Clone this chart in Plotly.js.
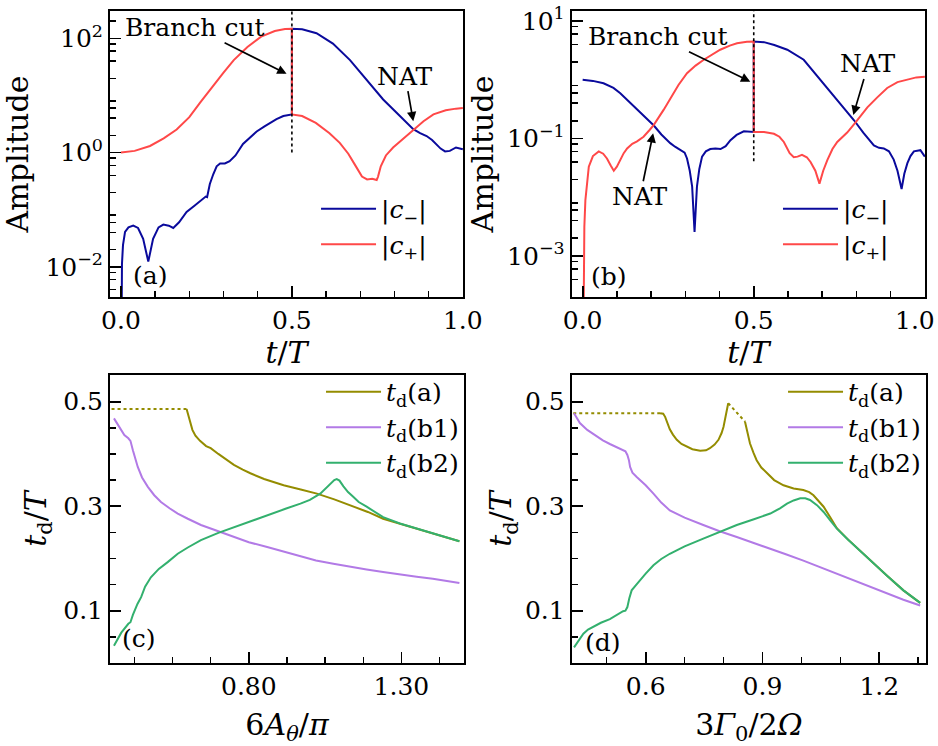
<!DOCTYPE html>
<html>
<head>
<meta charset="utf-8">
<script src="https://cdn.plot.ly/plotly-3.0.1.min.js"></script>
<style>html,body{margin:0;padding:0;background:#fff;}#chart{width:938px;height:746px;}</style>
</head>
<body>
<div id="chart"></div>
<script>
// ---------- Panel (a): amplitudes vs t/T ----------
const tMinusA = [0, 0.001, 0.003, 0.006, 0.012, 0.022, 0.036, 0.05, 0.065, 0.08, 0.094, 0.11, 0.124, 0.14, 0.153, 0.17, 0.192, 0.215, 0.24, 0.248, 0.252, 0.26, 0.27, 0.28, 0.29, 0.304, 0.318, 0.335, 0.357, 0.38, 0.397, 0.42, 0.436, 0.455, 0.475, 0.494, 0.5, 0.5, 0.53, 0.572, 0.62, 0.67, 0.718, 0.767, 0.816, 0.855, 0.875, 0.894, 0.91, 0.923, 0.935, 0.948, 0.962, 0.98, 0.99, 1.0];
const cMinusA = [0.00001, 0.00251, 0.01122, 0.02399, 0.04074, 0.04898, 0.05248, 0.04786, 0.0309, 0.0123, 0.0309, 0.04898, 0.05495, 0.05248, 0.04786, 0.06026, 0.0912, 0.1175, 0.1549, 0.1698, 0.166, 0.2818, 0.4169, 0.5754, 0.6457, 0.6457, 0.7079, 0.8913, 1.413, 1.905, 2.344, 2.884, 3.311, 3.846, 4.365, 4.624, 4.645, 147.9, 144.5, 123.0, 81.28, 41.69, 18.62, 8.511, 4.365, 2.57, 2.188, 1.95, 1.66, 1.38, 1.175, 1.047, 1.072, 1.23, 1.202, 1.148];
const tPlusA = [0, 0.04, 0.085, 0.125, 0.163, 0.2, 0.231, 0.27, 0.3, 0.33, 0.37, 0.41, 0.45, 0.48, 0.5, 0.5, 0.53, 0.57, 0.61, 0.64, 0.665, 0.685, 0.705, 0.72, 0.735, 0.748, 0.752, 0.76, 0.775, 0.796, 0.825, 0.855, 0.885, 0.914, 0.95, 0.98, 1.0];
const cPlusA = [1.0, 1.072, 1.306, 1.778, 2.541, 4.169, 7.413, 15.14, 25.12, 41.69, 70.79, 107.2, 134.9, 146.2, 147.9, 4.645, 4.365, 3.311, 2.188, 1.479, 0.955, 0.603, 0.38, 0.339, 0.347, 0.331, 0.38, 0.575, 0.891, 1.23, 1.738, 2.57, 3.548, 4.677, 5.495, 5.888, 6.026];
const cutTA = [0.5, 0.5];
const cutAmpA = [1.0, 1000];

// ---------- Panel (b): amplitudes vs t/T ----------
const tMinusB = [0, 0.03, 0.061, 0.09, 0.11, 0.13, 0.159, 0.185, 0.208, 0.23, 0.256, 0.27, 0.286, 0.298, 0.305, 0.313, 0.32, 0.327, 0.334, 0.341, 0.349, 0.36, 0.373, 0.388, 0.403, 0.418, 0.432, 0.45, 0.471, 0.49, 0.5, 0.5, 0.53, 0.56, 0.598, 0.646, 0.695, 0.744, 0.77, 0.793, 0.82, 0.851, 0.866, 0.88, 0.895, 0.909, 0.92, 0.932, 0.94, 0.949, 0.958, 0.968, 0.987, 1.0];
const cMinusB = [1.0, 0.955, 0.871, 0.724, 0.589, 0.452, 0.316, 0.224, 0.166, 0.117, 0.0832, 0.0724, 0.0646, 0.0575, 0.0457, 0.0282, 0.0151, 0.00257, 0.0151, 0.0302, 0.049, 0.0603, 0.0661, 0.0676, 0.0661, 0.0741, 0.0933, 0.115, 0.132, 0.132, 0.129, 4.467, 4.365, 3.89, 3.236, 2.188, 1.0, 0.457, 0.302, 0.204, 0.126, 0.0759, 0.0692, 0.0676, 0.0603, 0.0437, 0.0282, 0.0138, 0.0251, 0.038, 0.0501, 0.0603, 0.0631, 0.049];
const tPlusB = [0, 0.002, 0.005, 0.008, 0.013, 0.018, 0.03, 0.047, 0.06, 0.071, 0.082, 0.091, 0.1, 0.11, 0.12, 0.13, 0.145, 0.159, 0.178, 0.195, 0.208, 0.237, 0.256, 0.28, 0.305, 0.33, 0.354, 0.38, 0.402, 0.43, 0.451, 0.48, 0.5, 0.5, 0.53, 0.559, 0.575, 0.588, 0.605, 0.617, 0.628, 0.641, 0.655, 0.666, 0.68, 0.692, 0.703, 0.715, 0.73, 0.744, 0.76, 0.773, 0.797, 0.815, 0.832, 0.861, 0.89, 0.92, 0.95, 0.975, 1.0];
const cPlusB = [0.000001, 0.000316, 0.00316, 0.00891, 0.02, 0.0331, 0.0501, 0.0603, 0.055, 0.0457, 0.0347, 0.0282, 0.0331, 0.0427, 0.0562, 0.0676, 0.0813, 0.0891, 0.107, 0.138, 0.17, 0.309, 0.479, 0.813, 1.288, 1.738, 2.188, 2.754, 3.236, 3.802, 4.169, 4.416, 4.467, 0.129, 0.129, 0.12, 0.107, 0.0871, 0.0562, 0.0479, 0.049, 0.0525, 0.0479, 0.0398, 0.0282, 0.017, 0.0282, 0.0427, 0.0661, 0.0871, 0.107, 0.126, 0.186, 0.251, 0.339, 0.501, 0.724, 0.912, 1.023, 1.096, 1.122];
const cutTB = [0.5, 0.5];
const cutAmpB = [0.041, 100];

// ---------- Panel (c): t_d/T vs 6A_theta/pi ----------
const xDotC = [0.35, 0.596];
const aDotC = [0.486, 0.486];
const xAC = [0.596, 0.6, 0.607, 0.615, 0.625, 0.64, 0.66, 0.675, 0.7, 0.725, 0.751, 0.78, 0.805, 0.85, 0.914, 0.97, 1.023, 1.08, 1.131, 1.19, 1.24, 1.3, 1.349, 1.42, 1.49];
const tdAC = [0.486, 0.478, 0.46, 0.446, 0.435, 0.425, 0.415, 0.411, 0.4, 0.389, 0.379, 0.37, 0.363, 0.352, 0.34, 0.332, 0.324, 0.313, 0.302, 0.289, 0.276, 0.266, 0.257, 0.245, 0.233];
const xB1C = [0.358, 0.376, 0.392, 0.405, 0.412, 0.42, 0.436, 0.45, 0.469, 0.49, 0.512, 0.54, 0.567, 0.6, 0.643, 0.7, 0.751, 0.8, 0.86, 0.92, 0.969, 1.02, 1.077, 1.13, 1.186, 1.24, 1.295, 1.35, 1.403, 1.45, 1.49];
const tdB1C = [0.468, 0.452, 0.436, 0.43, 0.425, 0.407, 0.375, 0.355, 0.337, 0.321, 0.308, 0.296, 0.286, 0.276, 0.264, 0.252, 0.241, 0.231, 0.222, 0.212, 0.203, 0.196, 0.19, 0.184, 0.179, 0.174, 0.169, 0.165, 0.161, 0.157, 0.153];
const xB2C = [0.358, 0.382, 0.405, 0.412, 0.42, 0.435, 0.447, 0.46, 0.479, 0.505, 0.534, 0.567, 0.6, 0.643, 0.7, 0.751, 0.8, 0.86, 0.92, 0.969, 1.0, 1.034, 1.061, 1.08, 1.088, 1.097, 1.11, 1.125, 1.142, 1.16, 1.186, 1.24, 1.295, 1.35, 1.403, 1.45, 1.49];
const tdB2C = [0.033, 0.058, 0.075, 0.078, 0.092, 0.113, 0.126, 0.146, 0.164, 0.18, 0.193, 0.209, 0.221, 0.235, 0.249, 0.26, 0.27, 0.283, 0.295, 0.305, 0.312, 0.324, 0.34, 0.35, 0.352, 0.349, 0.338, 0.327, 0.318, 0.308, 0.299, 0.279, 0.267, 0.257, 0.248, 0.24, 0.233];

// ---------- Panel (d): t_d/T vs 3Gamma0/2Omega ----------
const xDot1D = [0.414, 0.637];
const aDot1D = [0.478, 0.478];
const xA1D = [0.637, 0.645, 0.65, 0.655, 0.662, 0.67, 0.68, 0.692, 0.705, 0.72, 0.74, 0.755, 0.765, 0.777, 0.787, 0.795, 0.8, 0.806, 0.812];
const tdA1D = [0.478, 0.477, 0.471, 0.46, 0.447, 0.437, 0.427, 0.419, 0.414, 0.409, 0.406, 0.407, 0.411, 0.418, 0.427, 0.44, 0.452, 0.472, 0.497];
const xDot2D = [0.812, 0.855];
const aDot2D = [0.497, 0.462];
const xA2D = [0.855, 0.86, 0.868, 0.877, 0.885, 0.897, 0.911, 0.93, 0.954, 0.98, 1.005, 1.02, 1.031, 1.045, 1.057, 1.074, 1.091, 1.12, 1.15, 1.177, 1.22, 1.262, 1.305];
const tdA2D = [0.462, 0.445, 0.42, 0.402, 0.388, 0.374, 0.363, 0.35, 0.34, 0.334, 0.331, 0.327, 0.321, 0.31, 0.299, 0.279, 0.258, 0.236, 0.215, 0.196, 0.167, 0.139, 0.115];
const xB1D = [0.416, 0.423, 0.431, 0.45, 0.474, 0.49, 0.508, 0.525, 0.542, 0.548, 0.553, 0.557, 0.56, 0.566, 0.577, 0.6, 0.62, 0.64, 0.662, 0.7, 0.748, 0.79, 0.834, 0.878, 0.92, 0.96, 1.005, 1.05, 1.091, 1.135, 1.177, 1.22, 1.262, 1.305];
const tdB1D = [0.478, 0.468, 0.459, 0.446, 0.433, 0.426, 0.419, 0.413, 0.407, 0.405, 0.398, 0.388, 0.375, 0.364, 0.356, 0.34, 0.324, 0.307, 0.292, 0.278, 0.264, 0.252, 0.241, 0.23, 0.219, 0.208, 0.196, 0.183, 0.17, 0.158, 0.145, 0.133, 0.121, 0.11];
const xB2D = [0.416, 0.428, 0.44, 0.452, 0.465, 0.485, 0.508, 0.525, 0.542, 0.548, 0.553, 0.558, 0.564, 0.574, 0.585, 0.6, 0.62, 0.64, 0.662, 0.7, 0.748, 0.79, 0.834, 0.878, 0.92, 0.945, 0.963, 0.98, 0.997, 1.01, 1.022, 1.04, 1.057, 1.074, 1.091, 1.12, 1.15, 1.177, 1.22, 1.262, 1.305];
const tdB2D = [0.03, 0.043, 0.056, 0.064, 0.069, 0.077, 0.084, 0.092, 0.099, 0.1, 0.107, 0.124, 0.139, 0.148, 0.158, 0.171, 0.187, 0.199, 0.209, 0.223, 0.238, 0.251, 0.264, 0.275, 0.286, 0.296, 0.305, 0.311, 0.315, 0.315, 0.312, 0.302, 0.289, 0.273, 0.257, 0.236, 0.215, 0.196, 0.167, 0.139, 0.115];

// ---------- labels ----------
const legendAB = ['|<i>c</i><sub>−</sub>|', '|<i>c</i><sub>+</sub>|'];
const legendCD = ['<i>t</i><sub>d</sub>(a)', '<i>t</i><sub>d</sub>(b1)', '<i>t</i><sub>d</sub>(b2)'];
const logTickValsA = [0.01, 1, 100];
const logTickTextA = ['10<sup>−2</sup>', '10<sup>0</sup>', '10<sup>2</sup>'];
const oddDecadesA = [0.1, 10];
const logTickValsB = [0.001, 0.1, 10];
const logTickTextB = ['10<sup>−3</sup>', '10<sup>−1</sup>', '10<sup>1</sup>'];
const oddDecadesB = [0.01, 1];
const tTickValsB = [0, 0.5];
const tTickTextB = ['0.0', '0.5'];
const tLastTickB = 1.0;
const tLastTextB = '1.0';

// ---------- styles ----------
const BLUE = '#0a0a9c', RED = '#ff4848', OLIVE = '#948c00', PURPLE = '#b27ae6', GREEN = '#33b06e';
const FONT = 'DejaVu Serif';
const LW = 2;

function minorLog(lo, hi) {
  const v = [];
  for (let n = lo; n <= hi; n++) for (const k of [2, 4, 6, 8]) v.push(k * Math.pow(10, n));
  return v;
}

const traces = [
  {x: tMinusA, y: cMinusA, xaxis: 'x', yaxis: 'y', mode: 'lines', line: {color: BLUE, width: LW}, name: legendAB[0], legend: 'legend'},
  {x: tPlusA, y: cPlusA, xaxis: 'x', yaxis: 'y', mode: 'lines', line: {color: RED, width: LW}, name: legendAB[1], legend: 'legend'},
  {x: cutTA, y: cutAmpA, xaxis: 'x', yaxis: 'y', mode: 'lines', line: {color: 'black', width: 1.6, dash: 'dot'}, showlegend: false},

  {x: tMinusB, y: cMinusB, xaxis: 'x2', yaxis: 'y2', mode: 'lines', line: {color: BLUE, width: LW}, name: legendAB[0], legend: 'legend2'},
  {x: tPlusB, y: cPlusB, xaxis: 'x2', yaxis: 'y2', mode: 'lines', line: {color: RED, width: LW}, name: legendAB[1], legend: 'legend2'},
  {x: cutTB, y: cutAmpB, xaxis: 'x2', yaxis: 'y2', mode: 'lines', line: {color: 'black', width: 1.6, dash: 'dot'}, showlegend: false},

  {x: xDotC, y: aDotC, xaxis: 'x3', yaxis: 'y3', mode: 'lines', line: {color: OLIVE, width: LW, dash: 'dot'}, showlegend: false},
  {x: xAC, y: tdAC, xaxis: 'x3', yaxis: 'y3', mode: 'lines', line: {color: OLIVE, width: LW}, name: legendCD[0], legend: 'legend3'},
  {x: xB1C, y: tdB1C, xaxis: 'x3', yaxis: 'y3', mode: 'lines', line: {color: PURPLE, width: LW}, name: legendCD[1], legend: 'legend3'},
  {x: xB2C, y: tdB2C, xaxis: 'x3', yaxis: 'y3', mode: 'lines', line: {color: GREEN, width: LW}, name: legendCD[2], legend: 'legend3'},

  {x: xDot1D, y: aDot1D, xaxis: 'x4', yaxis: 'y4', mode: 'lines', line: {color: OLIVE, width: LW, dash: 'dot'}, showlegend: false},
  {x: xA1D, y: tdA1D, xaxis: 'x4', yaxis: 'y4', mode: 'lines', line: {color: OLIVE, width: LW}, name: legendCD[0], legend: 'legend4'},
  {x: xDot2D, y: aDot2D, xaxis: 'x4', yaxis: 'y4', mode: 'lines', line: {color: OLIVE, width: LW, dash: 'dot'}, showlegend: false},
  {x: xA2D, y: tdA2D, xaxis: 'x4', yaxis: 'y4', mode: 'lines', line: {color: OLIVE, width: LW}, showlegend: false},
  {x: xB1D, y: tdB1D, xaxis: 'x4', yaxis: 'y4', mode: 'lines', line: {color: PURPLE, width: LW}, name: legendCD[1], legend: 'legend4'},
  {x: xB2D, y: tdB2D, xaxis: 'x4', yaxis: 'y4', mode: 'lines', line: {color: GREEN, width: LW}, name: legendCD[2], legend: 'legend4'}
];

const axBase = {
  showline: true, mirror: true, linecolor: 'black', linewidth: 2,
  ticks: 'inside', ticklen: 11, tickwidth: 1.8, tickcolor: 'black',
  showgrid: false, zeroline: false, automargin: false,
  tickfont: {family: FONT, size: 25, color: 'black'}
};
const TITLEFONT = {family: FONT, size: 30, color: 'black'};
const minorBase = {ticks: 'inside', ticklen: 6, tickwidth: 1.5, tickcolor: 'black', showgrid: false};

function xLin(domain, anchor, range, tick0, dtick, fmt, mtick0, mdtick, title, standoff) {
  return Object.assign({}, axBase, {
    domain, anchor, range, tickmode: 'linear', tick0, dtick, tickformat: fmt,
    minor: Object.assign({}, minorBase, {tickmode: 'linear', tick0: mtick0, dtick: mdtick}),
    title: {text: title, font: TITLEFONT, standoff}
  });
}
function yLog(domain, anchor, range, vals, text, mlo, mhi, standoff) {
  return Object.assign({}, axBase, {
    domain, anchor, type: 'log', range, tickmode: 'array', tickvals: vals, ticktext: text,
    minor: Object.assign({}, minorBase, {tickmode: 'array', tickvals: minorLog(mlo, mhi)}),
    title: {text: 'Amplitude', font: TITLEFONT, standoff}
  });
}
function yLogOdd(overlay, anchor, range, vals) {
  return {overlaying: overlay, anchor, side: 'left', type: 'log', range, tickmode: 'array', tickvals: vals,
    showticklabels: false, ticks: 'inside', ticklen: 11, tickwidth: 1.8, tickcolor: 'black',
    showline: false, showgrid: false, zeroline: false, automargin: false};
}
function yLin(domain, anchor, standoff) {
  return Object.assign({}, axBase, {
    domain, anchor, range: [0.0, 0.551], tickmode: 'linear', tick0: 0.1, dtick: 0.2, tickformat: '.1f',
    minor: Object.assign({}, minorBase, {tickmode: 'linear', tick0: 0.1, dtick: 0.05}),
    title: {text: '<i>t</i><sub>d</sub>/<i>T</i>', font: TITLEFONT, standoff}
  });
}

const legBase = {bgcolor: 'rgba(0,0,0,0)', borderwidth: 0, font: {family: FONT, size: 25, color: 'black'}, xanchor: 'left', yanchor: 'top', itemwidth: 55, tracegroupgap: 0};

const annFont = {family: FONT, size: 25, color: 'black'};
function txt(xref, yref, x, y, text) {
  return {xref, yref, x, y, text, showarrow: false, font: annFont, xanchor: 'center', yanchor: 'middle'};
}
// text placed at pixel offset (ax, ay) from the arrow head (x, y)
function arrTxt(xref, yref, x, y, ax, ay, text) {
  return {xref, yref, x, y, ax, ay, text, font: annFont, showarrow: true, arrowhead: 2, arrowsize: 1.1, arrowwidth: 1.7, arrowcolor: 'black', standoff: 0, borderpad: 0};
}

const xaxis2 = xLin([0.5658, 0.9988], 'y2', [-0.032, 1.0005], 0, 0.5, '.1f', 0, 0.1, '<i>t</i>/<i>T</i>', 1);
xaxis2.tickmode = 'array';
xaxis2.tickvals = tTickValsB;
xaxis2.ticktext = tTickTextB;

const layout = {
  width: 938, height: 746,
  margin: {l: 110, r: 12, t: 11, b: 83},
  paper_bgcolor: 'white', plot_bgcolor: 'white',
  font: {family: FONT, color: 'black'},
  showlegend: true,
  xaxis: xLin([0, 0.4326], 'y', [-0.032, 1.0005], 0, 0.5, '.1f', 0, 0.1, '<i>t</i>/<i>T</i>', 1),
  yaxis: yLog([0.5613, 1], 'x', [-2.53, 2.48], logTickValsA, logTickTextA, -3, 2, 12),
  yaxis5: yLogOdd('y', 'x', [-2.53, 2.48], oddDecadesA),
  xaxis2: xaxis2,
  yaxis2: yLog([0.5613, 1], 'x2', [-3.70, 1.17], logTickValsB, logTickTextB, -4, 1, 5),
  yaxis6: yLogOdd('y2', 'x2', [-3.70, 1.17], oddDecadesB),
  xaxis3: xLin([0, 0.4338], 'y3', [0.345, 1.505], 0.8, 0.5, '.2f', 0.8, 0.125, '6<i>A</i><sub><i>θ</i></sub>/<i>π</i>', 14),
  yaxis3: yLin([0, 0.4417], 'x3', 8),
  xaxis4: xLin([0.5658, 1], 'y4', [0.41, 1.32], 0.6, 0.3, '.1f', 0.6, 0.1, '3<i>Γ</i><sub>0</sub>/2<i>Ω</i>', 14),
  yaxis4: yLin([0, 0.4417], 'x4', 4),
  legend: Object.assign({}, legBase, {x: 0.2525, y: 0.7316}),
  legend2: Object.assign({}, legBase, {x: 0.8186, y: 0.7316}),
  legend3: Object.assign({}, legBase, {x: 0.2586, y: 0.451}),
  legend4: Object.assign({}, legBase, {x: 0.8248, y: 0.451}),
  annotations: [
    arrTxt('x', 'y', 0.4845, 1.379, -92, -46, 'Branch cut'),
    arrTxt('x', 'y', 0.855, 0.55, -8, -45, 'NAT'),
    txt('x', 'y', 0.085, -2.146, '(a)'),

    arrTxt('x2', 'y2', 0.49, -0.033, -92, -45, 'Branch cut'),
    arrTxt('x2', 'y2', 0.791, -0.6, 15, -51, 'NAT'),
    arrTxt('x2', 'y2', 0.206, -0.911, -13, 63, 'NAT'),
    txt('x2', 'y2', 0.077, -3.352, '(b)'),
    // last tick label of panel (b), pulled inside the page edge as in the reference
    {xref: 'x2', yref: 'y2 domain', x: tLastTickB, y: 0, text: tLastTextB, showarrow: false,
     font: {family: FONT, size: 25, color: 'black'}, xanchor: 'right', yanchor: 'top', xshift: 11, yshift: -8, borderpad: 0},

    txt('x3', 'y3', 0.441, 0.046, '(c)'),
    txt('x4', 'y4', 0.491, 0.040, '(d)')
  ]
};

Plotly.newPlot('chart', traces, layout, {displayModeBar: false, staticPlot: true});
</script>
</body>
</html>
